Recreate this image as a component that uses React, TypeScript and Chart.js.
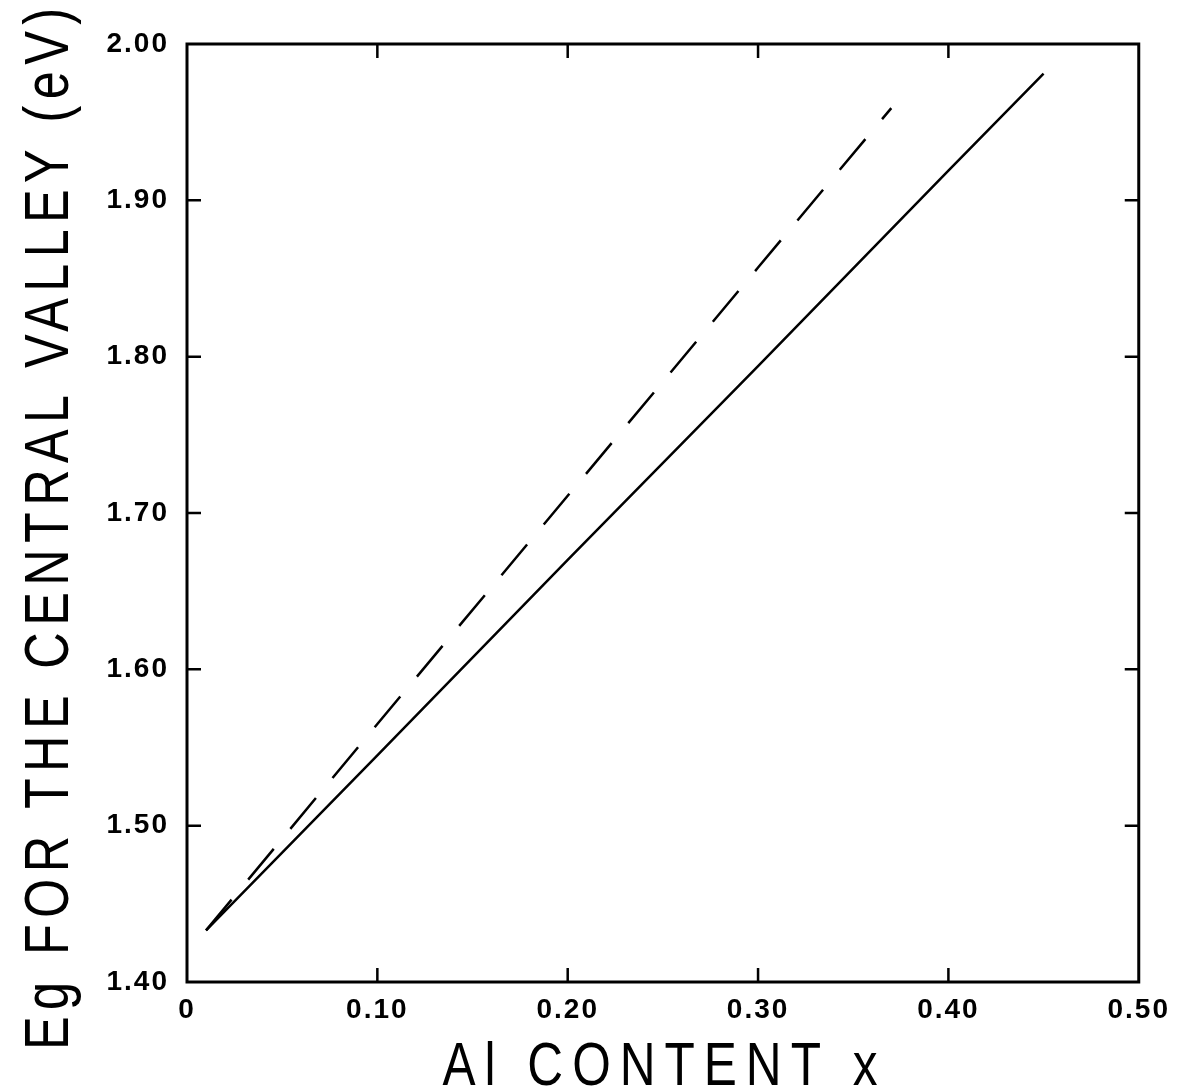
import { useEffect, useRef } from 'react';
import { Chart, registerables } from 'chart.js';

Chart.register(...registerables);

const xTickValues = [0, 0.1, 0.2, 0.3, 0.4, 0.5];
const yTickValues = [1.4, 1.5, 1.6, 1.7, 1.8, 1.9, 2.0];

const solidX = [0.01, 0.1, 0.2, 0.3, 0.4, 0.45];
const solidY = [1.433, 1.545, 1.67, 1.794, 1.919, 1.981];

const dashedX = [0.01, 0.1, 0.2, 0.3, 0.37];
const dashedY = [1.433, 1.565, 1.711, 1.857, 1.959];

const xTitle = 'Al CONTENT x';
const yTitle = 'Eg FOR THE CENTRAL VALLEY (eV)';

const TICK_LEN = 14;
const TITLE_FONT = '"Liberation Sans", Arial, sans-serif';

function drawSpacedText(
  ctx: CanvasRenderingContext2D,
  text: string,
  size: number,
  targetW: number,
  squeeze: number
) {
  (ctx as any).letterSpacing = '0px';
  ctx.font = `${size}px ${TITLE_FONT}`;
  const w0 = ctx.measureText(text).width;
  const n = text.length - 1;
  const ls = (targetW / squeeze - w0) / n;
  (ctx as any).letterSpacing = `${ls}px`;
  const total = w0 + ls * n;
  ctx.scale(squeeze, 1);
  ctx.textAlign = 'left';
  ctx.fillText(text, -total / 2, 0);
}

const framePlugin = {
  id: 'framePlugin',
  beforeDraw(chart: any) {
    (chart.ctx as any).letterSpacing = '2px';
  },
  afterDraw(chart: any) {
    const ctx = chart.ctx;
    const { left, right, top, bottom } = chart.chartArea;
    const xs = chart.scales.x;
    const ys = chart.scales.y;
    ctx.save();
    (ctx as any).letterSpacing = '0px';
    ctx.strokeStyle = '#000';
    ctx.lineWidth = 3;
    ctx.strokeRect(left, top, right - left, bottom - top);
    ctx.lineWidth = 2.5;
    ctx.beginPath();
    xTickValues.forEach((v) => {
      if (v === xs.min || v === xs.max) return;
      const px = xs.getPixelForValue(v);
      ctx.moveTo(px, bottom);
      ctx.lineTo(px, bottom - TICK_LEN);
      ctx.moveTo(px, top);
      ctx.lineTo(px, top + TICK_LEN);
    });
    yTickValues.forEach((v) => {
      if (Math.abs(v - ys.min) < 1e-9 || Math.abs(v - ys.max) < 1e-9) return;
      const py = ys.getPixelForValue(v);
      ctx.moveTo(left, py);
      ctx.lineTo(left + TICK_LEN, py);
      ctx.moveTo(right, py);
      ctx.lineTo(right - TICK_LEN, py);
    });
    ctx.stroke();

    ctx.fillStyle = '#000';
    ctx.textBaseline = 'alphabetic';
    // x title
    ctx.save();
    ctx.translate(652, 1077);
    drawSpacedText(ctx, xTitle, 62, 435, 0.8);
    ctx.restore();

    // y title
    ctx.save();
    ctx.translate(60, 521);
    ctx.rotate(-Math.PI / 2);
    drawSpacedText(ctx, yTitle, 63, 1042, 0.8);
    ctx.restore();

    ctx.restore();
  },
};

export default function App() {
  const ref = useRef<HTMLCanvasElement | null>(null);
  useEffect(() => {
    if (!ref.current) return;
    const chart = new Chart(ref.current, {
      type: 'line',
      data: {
        datasets: [
          {
            label: 'solid',
            data: solidX.map((x, i) => ({ x, y: solidY[i] })),
            borderColor: '#000',
            borderWidth: 2.5,
            pointRadius: 0,
            fill: false,
            tension: 0,
          },
          {
            label: 'dashed',
            data: dashedX.map((x, i) => ({ x, y: dashedY[i] })),
            borderColor: '#000',
            borderWidth: 2.5,
            borderDash: [40, 26],
            pointRadius: 0,
            fill: false,
            tension: 0,
          },
        ],
      },
      options: {
        animation: false,
        responsive: true,
        maintainAspectRatio: false,
        layout: { padding: { top: 36, right: 34, left: 0, bottom: 0 } },
        plugins: { legend: { display: false }, tooltip: { enabled: false } },
        scales: {
          x: {
            type: 'linear',
            min: 0,
            max: 0.5,
            afterBuildTicks: (s: any) => {
              s.ticks = xTickValues.map((v) => ({ value: v }));
            },
            afterFit: (s: any) => {
              s.height = 110;
            },
            grid: { display: false, drawTicks: false },
            border: { display: false },
            ticks: {
              padding: 11,
              color: '#000',
              font: { family: '"Liberation Sans", Arial, sans-serif', size: 28, weight: 'bold' },
              callback: (v: any) => (Number(v) === 0 ? '0' : Number(v).toFixed(2)),
              maxRotation: 0,
              autoSkip: false,
            },
          },
          y: {
            type: 'linear',
            min: 1.4,
            max: 2.0,
            afterBuildTicks: (s: any) => {
              s.ticks = yTickValues.map((v) => ({ value: v }));
            },
            afterFit: (s: any) => {
              s.width = 179;
            },
            grid: { display: false, drawTicks: false },
            border: { display: false },
            ticks: {
              padding: 18,
              color: '#000',
              font: { family: '"Liberation Sans", Arial, sans-serif', size: 28, weight: 'bold' },
              callback: (v: any) => Number(v).toFixed(2),
              autoSkip: false,
            },
          },
        },
      },
      plugins: [framePlugin],
    });
    return () => chart.destroy();
  }, []);
  return (
    <div style={{ width: 1169, height: 1084, position: 'relative' }}>
      <canvas ref={ref} />
    </div>
  );
}
